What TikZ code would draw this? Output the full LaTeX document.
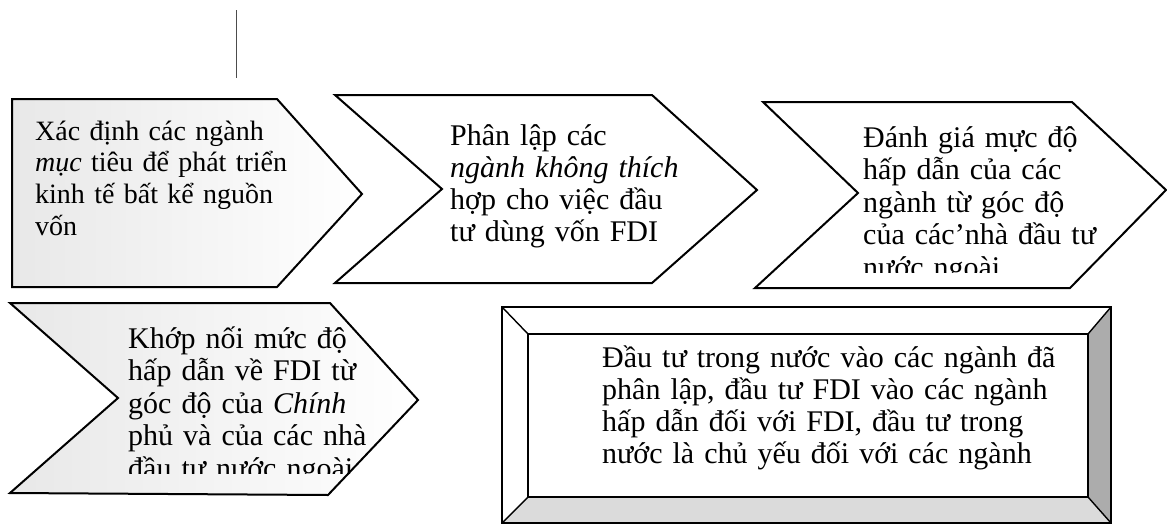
\documentclass[tikz,border=0pt]{standalone}
\usepackage{fontspec}
\setmainfont{Liberation Serif}
\begin{document}
\begin{tikzpicture}[x=1pt,y=-1pt,
  blk/.style={draw=black, line width=2pt, line join=miter},
  lightfill/.style={left color=gray!18, middle color=white, right color=white},
  txt/.style={anchor=base west, inner sep=0pt, align=left, text width=#1,
              font=\fontsize{30}{32}\selectfont},
  wide/.style={font=\fontsize{30}{32.5}\selectfont},
  small/.style={font=\fontsize{28}{31.7}\selectfont},
  bevel/.style={draw=black, line width=1.4pt}]
\useasboundingbox (0,0) rectangle (1167,525);

% stray vertical line
\coordinate (vt) at (236,10);
\coordinate (vb) at (236,78);
\draw[gray!60!black, line width=1pt] (vt) -- (vb);

% shape 1 (pentagon arrow)
\path[blk, lightfill] (12,99) -- (277,99) -- (362,194) -- (277,287) -- (12,287) -- cycle;
\node[txt=320pt, small] (t1) at (35,140) {Xác định các ngành\\\textit{mục} tiêu để phát triển\\kinh tế bất kể nguồn\\vốn};

% shape 2 (chevron)
\path[blk, fill=white] (335,95) -- (652,95) -- (757,190) -- (652,283) -- (335,283) -- (442,189) -- cycle;
\node[txt=320pt] (t2) at (450,145) {Phân lập các\\\textit{ngành không thích}\\hợp cho việc đầu\\tư dùng vốn FDI};

% shape 3 (chevron)
\path[blk, fill=white] (763,102) -- (1072,102) -- (1166,190) -- (1070,288) -- (755,288) -- (858,193) -- cycle;
\begin{scope}
\clip (700,100) rectangle (1167,272);
\node[txt=320pt, wide] (t3) at (863,147) {Đánh giá mực độ\\hấp dẫn của các\\ngành từ góc độ\\của các'nhà đầu tư\\nước ngoài};
\end{scope}

% shape 4 (chevron)
\path[blk, lightfill] (10,303) -- (330,303) -- (418,400) -- (328,495) -- (10,493) -- (118,398) -- cycle;
\begin{scope}
\clip (0,300) rectangle (420,473);
\node[txt=320pt, wide] (t4) at (128,348) {Khớp nối mức độ\\hấp dẫn về FDI từ\\góc độ của \textit{Chính}\\phủ và của các nhà\\đầu tư nước ngoài};
\end{scope}

% box 5 (bevelled)
\coordinate (o1) at (502,307);
\coordinate (o2) at (1111,307);
\coordinate (o3) at (1111,523);
\coordinate (o4) at (502,523);
\coordinate (i1) at (528,334);
\coordinate (i2) at (1088,334);
\coordinate (i3) at (1088,497);
\coordinate (i4) at (528,497);
\fill[white] (o1) -- (o2) -- (o3) -- (o4) -- cycle;
\fill[gray!65] (o2) -- (o3) -- (i3) -- (i2) -- cycle;
\fill[gray!28] (o4) -- (o3) -- (i3) -- (i4) -- cycle;
\draw[bevel] (o1) -- (i1) (o2) -- (i2) (o3) -- (i3) (o4) -- (i4);
\draw[blk] (i1) rectangle (i3);
\draw[blk] (o1) rectangle (o3);
\node[txt=520pt] (t5) at (602,367) {Đầu tư trong nước vào các ngành đã\\phân lập, đầu tư FDI vào các ngành\\hấp dẫn đối với FDI, đầu tư trong\\nước là chủ yếu đối với các ngành};
\end{tikzpicture}
\end{document}
